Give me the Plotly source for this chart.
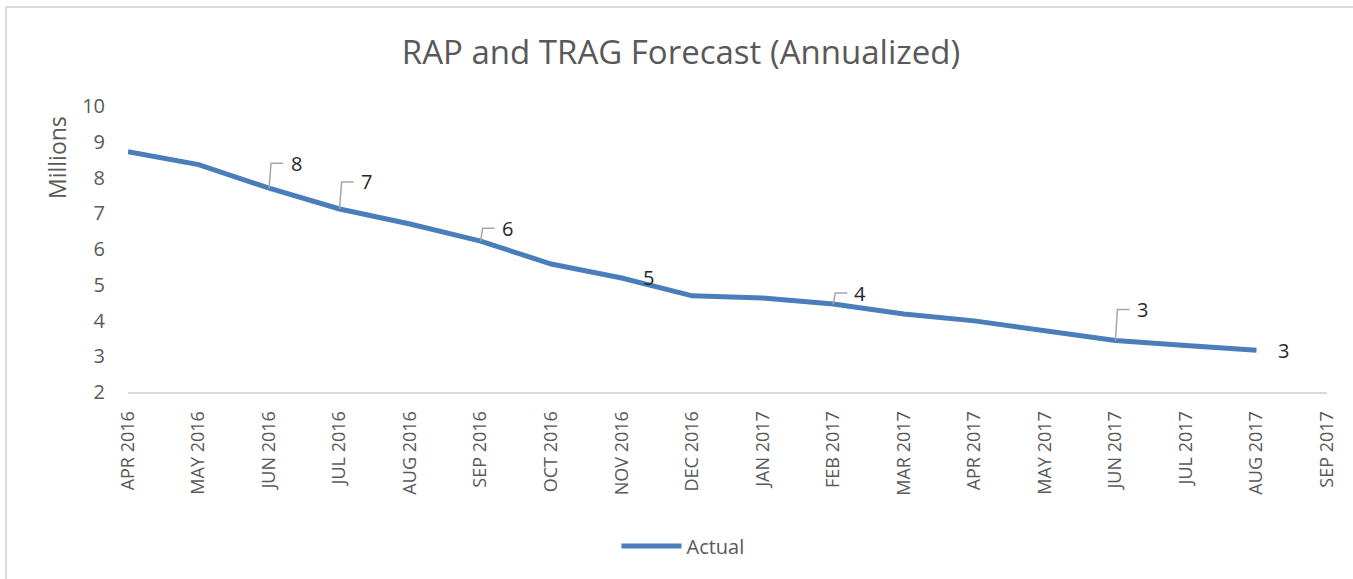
import plotly.graph_objects as go

months = ["APR 2016", "MAY 2016", "JUN 2016", "JUL 2016", "AUG 2016", "SEP 2016",
          "OCT 2016", "NOV 2016", "DEC 2016", "JAN 2017", "FEB 2017", "MAR 2017",
          "APR 2017", "MAY 2017", "JUN 2017", "JUL 2017", "AUG 2017", "SEP 2017"]
actual = [8.72, 8.36, 7.70, 7.12, 6.70, 6.22, 5.58, 5.19, 4.69, 4.63, 4.46, 4.18,
          3.99, 3.71, 3.44, 3.30, 3.17]
# indices with data labels; "leader" = elbow leader line, "right" = label right of point
label_idx = [2, 3, 5, 7, 10, 14, 16]
label_style = ["leader", "leader", "leader", "right", "leader", "leader", "right"]
leader_rise_px = [25, 27, 13, 0, 11, 31, 0]

# pixel scale of the plot area (used to place labels relative to data points)
L, R, T, B = 128, 26, 106, 187
W, H = 1353, 579
xmin, xmax, ymin, ymax = 0, 17, 2, 10
px_x = (xmax - xmin) / (W - L - R)
px_y = (ymax - ymin) / (H - T - B)

xs = list(range(len(actual)))
grey = "#595959"
blue = "#4a7ebb"
FONT = "Open Sans"

fig = go.Figure()
fig.add_trace(go.Scatter(x=xs, y=actual, mode="lines", name="Actual",
                         line=dict(color=blue, width=5), hoverinfo="skip"))

lx, ly = [], []
for i, st, rise in zip(label_idx, label_style, leader_rise_px):
    x0, y0 = i, actual[i]
    txt = str(int(round(y0)))
    if st == "leader":
        xt = x0 + 2 * px_x
        yt = y0 + rise * px_y
        lx += [x0, xt, x0 + 14 * px_x, None]
        ly += [y0, yt, yt, None]
        ypos = yt
    else:
        ypos = y0
    fig.add_annotation(x=x0 + 27 * px_x, y=ypos, text=txt, showarrow=False,
                       xanchor="center", yanchor="middle",
                       font=dict(family=FONT, size=20, color="#262626"))

fig.add_trace(go.Scatter(x=lx, y=ly, mode="lines", showlegend=False,
                         line=dict(color="#a6a6a6", width=1.5), hoverinfo="skip"))

# y-axis title placed near the top of the axis, as in the reference
fig.add_annotation(xref="paper", yref="paper",
                   x=-(L - 57) / (W - L - R), y=(H - B - 158) / (H - T - B),
                   text="Millions", textangle=-90, showarrow=False,
                   xanchor="center", yanchor="middle",
                   font=dict(family=FONT, size=23, color=grey))

fig.update_layout(
    width=W, height=H,
    margin=dict(l=L, r=R, t=T, b=B, pad=0),
    paper_bgcolor="white", plot_bgcolor="white",
    title=dict(text="RAP and TRAG Forecast (Annualized)", x=681 / W, xref="container",
               xanchor="center", y=1 - 52 / H, yanchor="middle", yref="container",
               font=dict(family=FONT, size=33, color=grey)),
    xaxis=dict(range=[xmin, xmax], tickmode="array", tickvals=list(range(len(months))),
               ticktext=months, tickangle=-90, showgrid=False, zeroline=False,
               showline=True, linecolor="#d9d9d9", linewidth=2, ticks="",
               ticklabelstandoff=10,
               tickfont=dict(family=FONT, size=18, color=grey)),
    yaxis=dict(range=[ymin, ymax], dtick=1, showgrid=False, zeroline=False,
               showline=False, ticks="", ticklabelstandoff=22,
               tickfont=dict(family=FONT, size=20, color=grey)),
    legend=dict(orientation="h", x=(683 - L) / (W - L - R), xanchor="center",
                y=(H - B - 546) / (H - T - B), yanchor="middle",
                font=dict(family=FONT, size=20, color=grey),
                itemwidth=60, bgcolor="rgba(0,0,0,0)"),
    showlegend=True,
)

# outer chart frame (top and left edges visible in the reference)
fy = 1 + (T - 7) / (H - T - B)
fx = -(L - 6) / (W - L - R)
fig.add_shape(type="line", xref="paper", yref="paper",
              x0=fx, x1=(W - L + 10) / (W - L - R), y0=fy, y1=fy,
              line=dict(color="#d9d9d9", width=2))
fig.add_shape(type="line", xref="paper", yref="paper",
              x0=fx, x1=fx, y0=fy, y1=-(B + 10) / (H - T - B),
              line=dict(color="#d9d9d9", width=2))

fig.write_html("out.html", config={"displayModeBar": False},
               post_script="document.body.style.margin='0';")
